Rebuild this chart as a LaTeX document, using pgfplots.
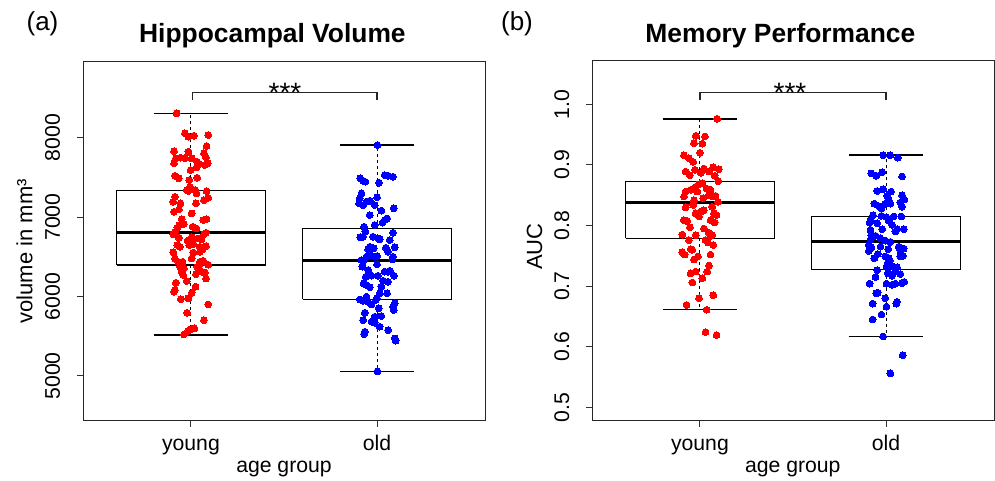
\documentclass[border=0pt]{standalone}
\usepackage{fontspec}
\setmainfont{Liberation Sans}
\usepackage{pgfplots}
\pgfplotsset{compat=1.18}
\newcommand\basefont{\fontsize{10.6}{12.7}\selectfont}
\newcommand\labfont{\fontsize{11}{13.2}\selectfont}
\newcommand\titlefont{\fontsize{13.2}{15.8}\selectfont\bfseries}
\definecolor{rred}{RGB}{255,0,0}
\definecolor{rblue}{RGB}{0,0,255}
\pgfplotsset{
  rbox/.style={
    scale only axis, width=201pt, height=180pt,
    xmin=0.42, xmax=2.58,
    xtick={1,2}, xticklabels={young,old},
    tick align=outside, xtick pos=bottom, ytick pos=left,
    major tick length=3pt,
    every tick/.style={black!80, line width=0.5pt},
    axis line style={line width=0.5pt, black!85},
    clip=false,
    tick label style={font=\basefont, inner sep=0pt},
    yticklabel style={rotate=90, anchor=south},
    xticklabel style={anchor=base},
    xticklabel shift=12pt,
    yticklabel shift=8.2pt,
    /pgf/number format/assume math mode=true,
  },
  boxl/.style={black, line width=0.6pt, no marks},
  medl/.style={black, line width=1.5pt, no marks},
  whisk/.style={black, line width=0.5pt, dash pattern=on 1.5pt off 1.5pt, no marks},
  capl/.style={black, line width=0.6pt, no marks},
  pts/.style={only marks, mark=*, mark size=1.7pt, mark options={line width=0pt}},
}
\begin{document}
\begin{tikzpicture}[x=1pt,y=1pt]
\path[use as bounding box] (0,0) rectangle (497.5,240.5);
% ---------------- panel (a)
\begin{axis}[rbox, at={(41.5pt,30pt)}, anchor=south west,
  ymin=4433, ymax=8966, ytick={5000,6000,7000,8000},
  yticklabel style={/pgf/number format/set thousands separator={}}]
% young box
\addplot[boxl] coordinates {(0.6,6397) (1.4,6397) (1.4,7338) (0.6,7338) (0.6,6397)};
\addplot[medl] coordinates {(0.6,6809) (1.4,6809)};
\addplot[whisk] coordinates {(1,7338) (1,8307)};
\addplot[whisk] coordinates {(1,6397) (1,5516)};
\addplot[capl] coordinates {(0.8,8307) (1.2,8307)};
\addplot[capl] coordinates {(0.8,5516) (1.2,5516)};
% old box
\addplot[boxl] coordinates {(1.6,5965) (2.4,5965) (2.4,6854) (1.6,6854) (1.6,5965)};
\addplot[medl] coordinates {(1.6,6460) (2.4,6460)};
\addplot[whisk] coordinates {(2,6854) (2,7908)};
\addplot[whisk] coordinates {(2,5965) (2,5058)};
\addplot[capl] coordinates {(1.8,7908) (2.2,7908)};
\addplot[capl] coordinates {(1.8,5058) (2.2,5058)};
% bracket
\addplot[black!85, line width=0.6pt, no marks] coordinates {(1.01,8475) (1.01,8567) (2,8567) (2,8475)};
% points
\addplot[pts, rred] coordinates {
(0.923,8307) (0.968,8055) (0.986,8013) (1.016,8025) (1.093,8034) (1.084,7895) (0.909,7832) (0.986,7824) (1.070,7803) (1.081,7752)
(0.919,7740) (0.944,7748) (0.968,7740) (1.004,7740) (0.909,7677) (1.034,7698) (1.043,7668) (1.030,7626) (1.075,7656) (1.090,7677)
(0.998,7593) (0.914,7521) (0.935,7488) (0.991,7467) (1.034,7496) (0.995,7383) (0.977,7341) (1.022,7341) (1.030,7299) (1.084,7328)
(0.986,7328) (0.914,7257) (0.905,7194) (0.944,7173) (1.027,7173) (1.070,7215) (1.093,7244) (0.935,7097) (0.909,7068) (1.004,7047)
(0.950,6976) (1.066,6963) (1.084,6976) (0.937,6900) (0.927,6867) (0.914,6816) (0.905,6783) (0.962,6913) (1.009,6879) (1.030,6858)
(1.070,6787) (1.081,6804) (0.935,6741) (0.982,6703) (1.004,6745) (1.036,6732) (1.057,6720) (0.991,6648) (1.013,6661) (1.048,6627)
(1.081,6636) (0.927,6648) (0.941,6627) (0.905,6556) (1.013,6552) (1.048,6564) (1.061,6594) (0.914,6480) (0.932,6438) (0.955,6438)
(1.004,6480) (1.048,6438) (1.066,6451) (1.093,6401) (0.941,6375) (0.962,6354) (1.034,6375) (1.045,6396) (1.057,6312) (0.950,6312)
(0.959,6270) (1.027,6283) (1.075,6304) (1.081,6228) (0.919,6174) (0.914,6082) (0.909,6061) (1.025,6124) (1.004,6048) (0.977,6195)
(0.946,5968) (0.986,5977) (1.093,5901) (0.980,5796) (1.070,5704) (0.986,5570) (1.018,5599) (0.995,5586) (0.962,5523)
};
\addplot[pts, rblue] coordinates {
(2.002,7908) (1.910,7488) (1.925,7459) (1.937,7446) (2.011,7434) (2.041,7530) (2.059,7522) (2.086,7509) (1.916,7299) (1.907,7236)
(1.903,7173) (1.925,7152) (1.943,7194) (1.961,7207) (1.987,7152) (2.000,7249) (2.023,7081) (2.090,7110) (1.961,7026) (2.054,6984)
(2.041,6963) (2.029,6930) (1.930,6880) (1.987,6901) (1.937,6817) (1.910,6745) (1.925,6754) (1.978,6754) (2.005,6733) (2.014,6720)
(2.086,6804) (2.068,6712) (1.961,6628) (1.952,6594) (1.982,6607) (2.047,6615) (2.095,6619) (2.059,6565) (1.961,6523) (1.943,6502)
(1.916,6460) (1.925,6439) (1.987,6502) (2.000,6511) (2.086,6502) (2.082,6468) (2.000,6405) (1.921,6376) (1.952,6334) (2.041,6313)
(2.059,6313) (2.068,6325) (2.091,6262) (1.939,6250) (1.970,6262) (2.005,6262) (1.928,6166) (1.943,6145) (1.961,6116) (2.032,6200)
(2.059,6187) (2.023,6124) (2.014,6040) (2.054,6040) (1.907,5964) (1.925,5947) (1.943,5998) (1.952,5935) (1.970,5901) (1.993,5956)
(2.000,5977) (2.095,5914) (2.086,5872) (2.090,5830) (1.934,5796) (2.009,5851) (2.023,5755) (1.987,5746) (1.925,5704) (1.970,5683)
(1.987,5670) (2.014,5620) (2.059,5578) (1.934,5557) (1.930,5528) (2.095,5473) (2.100,5444) (2.002,5058)
};
\end{axis}
% ---------------- panel (b)
\begin{axis}[rbox, at={(296pt,30pt)}, anchor=south west,
  ymin=0.4774, ymax=1.0715, ytick={0.5,0.6,0.7,0.8,0.9,1.0},
  yticklabel style={/pgf/number format/.cd, fixed, fixed zerofill, precision=1}]
\addplot[boxl] coordinates {(0.6,0.7789) (1.4,0.7789) (1.4,0.8723) (0.6,0.8723) (0.6,0.7789)};
\addplot[medl] coordinates {(0.6,0.8376) (1.4,0.8376)};
\addplot[whisk] coordinates {(1,0.8723) (1,0.9757)};
\addplot[whisk] coordinates {(1,0.7789) (1,0.6610)};
\addplot[capl] coordinates {(0.8,0.9757) (1.2,0.9757)};
\addplot[capl] coordinates {(0.8,0.6610) (1.2,0.6610)};
\addplot[boxl] coordinates {(1.6,0.7271) (2.4,0.7271) (2.4,0.8152) (1.6,0.8152) (1.6,0.7271)};
\addplot[medl] coordinates {(1.6,0.7733) (2.4,0.7733)};
\addplot[whisk] coordinates {(2,0.8152) (2,0.9163)};
\addplot[whisk] coordinates {(2,0.7271) (2,0.6165)};
\addplot[capl] coordinates {(1.8,0.9163) (2.2,0.9163)};
\addplot[capl] coordinates {(1.8,0.6165) (2.2,0.6165)};
\addplot[black!85, line width=0.6pt, no marks] coordinates {(1.0,1.007) (1.0,1.019) (2,1.019) (2,1.007)};
\addplot[pts, rred] coordinates {
(1.093,0.976) (0.977,0.948) (1.027,0.947) (0.968,0.936) (1.013,0.935) (1.000,0.920) (0.914,0.916) (0.941,0.911) (0.964,0.905) (0.923,0.889)
(0.946,0.883) (0.973,0.892) (1.004,0.887) (1.021,0.894) (1.048,0.889) (1.072,0.896) (1.102,0.893) (1.079,0.882) (1.098,0.873) (0.995,0.868)
(1.013,0.870) (0.977,0.864) (1.036,0.861) (1.057,0.859) (0.923,0.856) (0.914,0.848) (0.950,0.859) (0.986,0.856) (1.048,0.850) (1.066,0.848)
(1.084,0.849) (1.018,0.845) (0.968,0.842) (1.098,0.839) (0.923,0.830) (0.964,0.834) (1.066,0.831) (0.977,0.820) (1.004,0.823) (1.021,0.825)
(1.089,0.817) (1.075,0.820) (0.995,0.815) (0.914,0.809) (0.932,0.807) (1.057,0.809) (1.079,0.805) (0.946,0.797) (1.021,0.795) (0.905,0.785)
(0.977,0.784) (1.048,0.788) (1.057,0.783) (1.066,0.784) (0.941,0.776) (1.030,0.776) (1.043,0.772) (1.072,0.768) (0.905,0.756) (0.918,0.752)
(0.950,0.761) (0.959,0.760) (0.968,0.744) (0.989,0.749) (1.057,0.752) (1.048,0.734) (0.950,0.721) (0.977,0.724) (1.039,0.724) (1.013,0.713)
(0.959,0.706) (1.072,0.685) (0.995,0.680) (0.928,0.669) (1.036,0.661) (1.030,0.624) (1.089,0.619)
};
\addplot[pts, rblue] coordinates {
(1.984,0.916) (2.023,0.916) (2.063,0.912) (1.921,0.886) (1.948,0.882) (1.979,0.888) (2.086,0.881) (1.952,0.857) (1.984,0.860) (2.027,0.856)
(2.005,0.849) (2.014,0.842) (2.086,0.850) (2.098,0.843) (2.077,0.838) (1.937,0.836) (1.961,0.832) (1.975,0.828) (1.996,0.836) (2.023,0.836)
(2.086,0.831) (1.930,0.817) (1.975,0.816) (2.002,0.814) (2.041,0.815) (2.082,0.815) (1.916,0.809) (1.912,0.805) (1.952,0.804) (2.014,0.808)
(2.032,0.801) (2.059,0.794) (2.050,0.790) (2.095,0.794) (1.979,0.794) (1.916,0.793) (1.920,0.784) (1.943,0.783) (1.970,0.779) (1.996,0.775)
(2.023,0.773) (1.916,0.776) (1.907,0.768) (1.921,0.764) (1.970,0.765) (2.011,0.761) (2.068,0.765) (2.095,0.762) (2.077,0.758) (1.907,0.758)
(1.955,0.753) (1.937,0.746) (1.996,0.749) (2.014,0.746) (2.020,0.742) (2.077,0.749) (2.091,0.750) (2.009,0.738) (2.002,0.732) (2.041,0.732)
(2.059,0.731) (2.050,0.724) (2.077,0.720) (2.032,0.717) (1.952,0.726) (1.943,0.715) (2.009,0.721) (1.912,0.704) (2.002,0.704) (2.032,0.702)
(2.050,0.704) (2.086,0.705) (2.098,0.707) (1.955,0.689) (1.948,0.688) (1.996,0.680) (2.059,0.674) (2.055,0.671) (1.928,0.671) (2.002,0.666)
(1.975,0.653) (1.928,0.645) (1.984,0.617) (2.089,0.586) (2.023,0.556)
};
\end{axis}
% ---------------- text
\node[font=\fontsize{13}{15.6}\selectfont, anchor=base] at (21.25,225) {(a)};
\node[font=\fontsize{13}{15.6}\selectfont, anchor=base] at (258.5,225) {(b)};
\node[font=\titlefont, anchor=base] at (136.2,219.2) {Hippocampal Volume};
\node[font=\titlefont, anchor=base] at (390.2,219.2) {Memory Performance};
\node[font=\fontsize{14}{16}\selectfont] at (142.5,194) {***};
\node[font=\fontsize{14}{16}\selectfont] at (395,194) {***};
\node[font=\basefont, anchor=base] at (142,4) {age group};
\node[font=\basefont, anchor=base] at (396.4,4) {age group};
\node[font=\labfont, rotate=90, anchor=base] at (16.25,114.8) {volume in mm³};
\node[font=\labfont, rotate=90, anchor=base] at (271,117.2) {AUC};
\end{tikzpicture}
\end{document}
